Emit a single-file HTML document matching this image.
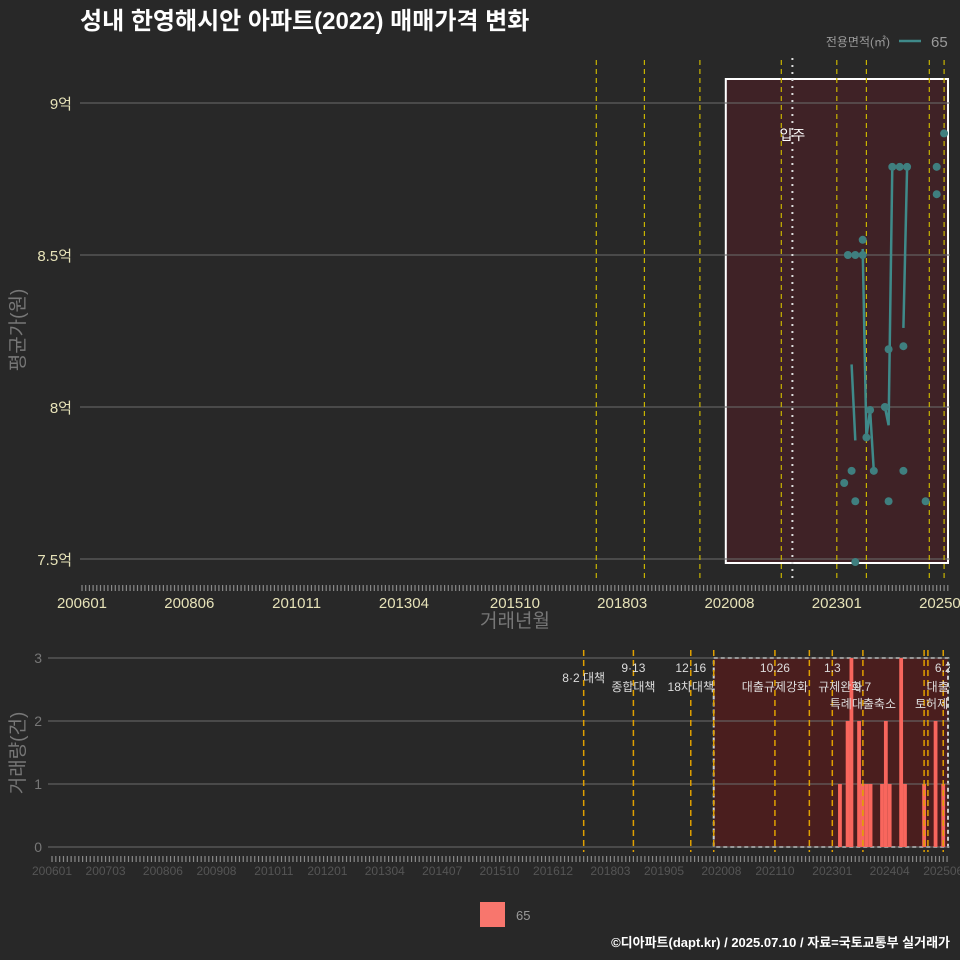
<!DOCTYPE html>
<html><head><meta charset="utf-8">
<style>
html,body{margin:0;padding:0;background:#282828;}
svg{display:block;font-family:"Liberation Sans","Noto Sans CJK KR",sans-serif;}
</style></head>
<body>
<svg id="c" width="960" height="960" viewBox="0 0 960 960">
<rect x="0" y="0" width="960" height="960" fill="#282828"/>
<text x="80" y="29" font-size="24" font-weight="bold" fill="#ffffff">성내 한영해시안 아파트(2022) 매매가격 변화</text>
<g>
<text x="890" y="46" font-size="12" fill="#9a9a9a" text-anchor="end">전용면적(㎡)</text>
<line x1="899" y1="41" x2="921" y2="41" stroke="#3f8a8a" stroke-width="2.5"/>
<text x="931" y="47" font-size="15" fill="#9a9a9a">65</text>
</g>
<g id="topPanel"></g>
<g id="botPanel"></g>
<text transform="translate(24,330) rotate(-90)" font-size="19" fill="#777" text-anchor="middle">평균가(원)</text>
<text x="515" y="627" font-size="19" fill="#777" text-anchor="middle">거래년월</text>
<text transform="translate(24,753) rotate(-90)" font-size="19" fill="#777" text-anchor="middle">거래량(건)</text>
<g>
<rect x="480" y="902" width="25" height="25" fill="#f8766d"/>
<text x="516" y="920" font-size="13" fill="#999">65</text>
</g>
<text x="950" y="947" font-size="13" font-weight="bold" fill="#ffffff" text-anchor="end">©디아파트(dapt.kr) / 2025.07.10 / 자료=국토교통부 실거래가</text>
</svg>
<script>
// ---- data ----
const pointMonths=["202506","202504","202504","202404","202406","202408","202308","202304","202306","202308","202403","202407","202309","202310","202402","202305","202311","202407","202303","202306","202403","202501","202306"];
const pointValues=[8.90,8.79,8.70,8.79,8.79,8.79,8.55,8.50,8.50,8.50,8.19,8.20,7.90,7.99,8.00,7.79,7.79,7.79,7.75,7.69,7.69,7.69,7.49];
const lineMonths=["202305","202306",null,"202308","202309","202310","202311",null,"202402","202403","202404",null,"202407","202408"];
const lineValues=[8.14,7.89,null,8.52,7.90,7.99,7.79,null,8.00,7.94,8.79,null,8.26,8.79];
const volMonths=["202303","202305","202306","202308","202309","202310","202311","202402","202403","202404","202407","202408","202501","202504","202506"];
const volCounts=[1,2,3,2,1,1,1,1,2,1,3,1,1,2,1];
const priceTicks=[7.5,8,8.5,9];
const priceTickLabels=["7.5억","8억","8.5억","9억"];
const volTicks=[0,1,2,3];
const topXLabels=["200601","200806","201011","201304","201510","201803","202008","202301","202506"];
const botXLabels=["200601","200703","200806","200908","201011","201201","201304","201407","201510","201612","201803","201905","202008","202110","202301","202404","202506"];
const topEvents=["201708","201809","201912","202110","202301","202309","202502","202506"];
const botEvents=["201708","201809","201912","202006","202110","202207","202301","202309","202501","202502","202506"];
const moveInMonth="202201";
const botNotes=[["201708","","8·2 대책"],["201809","9·13","종합대책"],["201912","12·16","18차대책"],["202110","10.26","대출규제강화"],["202301","1.3","규제완화"],["202309","9.7","특례대출축소"],["202506","6.2","대출규"]];
// ---- scales ----
const NS="http://www.w3.org/2000/svg";
function mi(s){return (parseInt(s.slice(0,4))-2006)*12+parseInt(s.slice(4))-1;}
const xT=m=>82+mi(m)*3.7, xTi=i=>82+i*3.7;
const yT=v=>559-(v-7.5)*304;
const xB=m=>52+mi(m)*3.825, xBi=i=>52+i*3.825;
const yB=c=>847-c*63;
function el(p,t,a,txt){const e=document.createElementNS(NS,t);for(const k in a)e.setAttribute(k,a[k]);if(txt!==undefined)e.textContent=txt;p.appendChild(e);return e;}
const topG=document.getElementById('topPanel'),botG=document.getElementById('botPanel');
// top panel
const r1=el(topG,'rect',{x:xT("202007"),y:79,width:948-xT("202007"),height:484,fill:'#3f2226',stroke:'#ffffff','stroke-width':2});


priceTicks.forEach((v,i)=>{
 const g=el(topG,'line',{x1:80,x2:950,y1:yT(v),y2:yT(v),stroke:'#6a6a6a','stroke-width':1.2,'stroke-opacity':0.85});
 
 
 const t=el(topG,'text',{x:72,y:yT(v)+6,'font-size':15,fill:'#e6e2b8','text-anchor':'end'},priceTickLabels[i]);
 
 
});
for(let i=0;i<=234;i++){const l=el(topG,'line',{x1:xTi(i),x2:xTi(i),y1:585,y2:591,stroke:'#888','stroke-width':1.2});
 
 }
topXLabels.forEach(s=>{const t=el(topG,'text',{x:xT(s),y:608,'font-size':15,fill:'#e6e2b8','text-anchor':'middle'},s);
 
 });
topEvents.forEach(m=>{const l=el(topG,'line',{x1:xT(m),x2:xT(m),y1:60,y2:580,stroke:'#c8b400','stroke-width':1.2,'stroke-dasharray':'5,4'});
 
 });
const mv=el(topG,'line',{x1:xT(moveInMonth),x2:xT(moveInMonth),y1:58,y2:580,stroke:'#ddd','stroke-width':2,'stroke-dasharray':'2,5'});


const mvt=el(topG,'text',{x:xT(moveInMonth),y:140,'font-size':14,fill:'#fff','text-anchor':'middle'},'입주');


let d='',pen=false;
lineMonths.forEach((m,i)=>{if(m===null){pen=false;return;}d+=(pen?'L':'M')+xT(m)+','+yT(lineValues[i]);pen=true;});
const ln=el(topG,'path',{d:d,fill:'none',stroke:'#3f8a8a','stroke-width':2.5});


pointMonths.forEach((m,i)=>{const c=el(topG,'circle',{cx:xT(m),cy:yT(pointValues[i]),r:4,fill:'#3f7f7f'});
 
 });
// bottom panel
const r2=el(botG,'rect',{x:xB("202006"),y:658,width:948-xB("202006"),height:189,fill:'#4a1e1e',stroke:'#cccccc','stroke-width':2,'stroke-dasharray':'4,3'});


volTicks.forEach(v=>{
 const g=el(botG,'line',{x1:48,x2:950,y1:yB(v),y2:yB(v),stroke:'#6a6a6a','stroke-width':1.2,'stroke-opacity':0.85});
 
 
 const t=el(botG,'text',{x:42,y:yB(v)+5,'font-size':14,fill:'#777','text-anchor':'end'},String(v));
 
 
});
for(let i=0;i<=234;i++){const l=el(botG,'line',{x1:xBi(i),x2:xBi(i),y1:856,y2:862,stroke:'#888','stroke-width':1.2});
 
 }
botXLabels.forEach(s=>{const t=el(botG,'text',{x:xB(s),y:875,'font-size':12,fill:'#555','text-anchor':'middle'},s);
 
 });
volMonths.forEach((m,i)=>{const b=el(botG,'rect',{x:xB(m)-1.9,y:yB(volCounts[i]),width:3.8,height:yB(0)-yB(volCounts[i]),fill:'#f8665d'});
 
 });
botEvents.forEach(m=>{const l=el(botG,'line',{x1:xB(m),x2:xB(m),y1:650,y2:852,stroke:'#e0a000','stroke-width':1.5,'stroke-dasharray':'6,4'});
 
 });
const cp=el(botG,'clipPath',{id:'bc'});el(cp,'rect',{x:0,y:640,width:950,height:240});
const ng=el(botG,'g',{'clip-path':'url(#bc)'});
botNotes.forEach(n=>{const x=xB(n[0]);const low=n[0]==="202309";
 if(n[1]){const t=el(ng,'text',{x:x,y:low?691:672,'font-size':12,fill:'#ddd','text-anchor':'middle'},n[1]);
  
  }
 const t2=el(ng,'text',{x:n[0]==="202301"?x+8:x,y:n[0]==="201708"?682:(low?708:691),'font-size':12,fill:'#ddd','text-anchor':'middle'},n[2]);
 
 });
const th=el(ng,'text',{x:915,y:708,'font-size':12,fill:'#ddd','text-anchor':'start'},'토허제 해제');


</script>
</body></html>
